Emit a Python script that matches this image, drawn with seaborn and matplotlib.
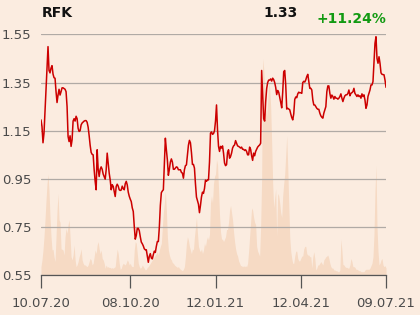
import matplotlib
matplotlib.use("Agg")
import matplotlib.pyplot as plt
import numpy as np
import pandas as pd
import seaborn as sns

# ---------------- data ----------------
ticker = "RFK"
last_price = "1.33"
change_text = "+11.24%"

price_seg1 = [1.195, 1.167, 1.10, 1.14, 1.23, 1.32, 1.402, 1.499, 1.40, 1.39,
              1.41, 1.42, 1.385, 1.37, 1.368, 1.312, 1.267, 1.298, 1.322, 1.298,
              1.312, 1.328, 1.328, 1.325, 1.322, 1.312, 1.25, 1.126, 1.105, 1.129,
              1.085, 1.112, 1.19, 1.20, 1.19, 1.21, 1.20, 1.16, 1.147, 1.15,
              1.174, 1.182, 1.186, 1.19, 1.192, 1.192, 1.185, 1.165, 1.13, 1.09,
              1.06, 1.052, 1.05, 0.988, 0.94, 0.905, 1.071, 0.99, 0.96, 0.99,
              1.0, 0.99, 0.97, 0.96, 0.949, 0.988, 1.057, 1.016, 0.974, 0.946,
              0.905, 0.926, 0.919, 0.898, 0.877, 0.919, 0.928, 0.92, 0.905, 0.902,
              0.904, 0.92, 0.91, 0.905, 0.93, 0.94, 0.925, 0.895, 0.878, 0.866,
              0.856, 0.83]
price_seg2 = [0.815, 0.753, 0.70, 0.715, 0.745, 0.745, 0.735, 0.71, 0.688, 0.681,
              0.672, 0.66, 0.656, 0.656, 0.629, 0.604, 0.629, 0.64, 0.622, 0.618,
              0.636, 0.65, 0.645, 0.67, 0.69, 0.69, 0.75, 0.84, 0.893, 0.9,
              0.905, 1.016, 1.119, 1.071, 1.029, 0.965, 0.99, 1.02, 1.033, 1.02,
              0.99, 0.99, 0.995, 1.0, 0.998, 0.988, 0.988, 0.988, 0.977, 0.974,
              0.953, 0.988, 1.005, 1.008, 1.05, 1.09, 1.11, 1.10, 1.06, 1.01,
              1.01, 0.995, 0.93, 0.875, 0.86, 0.845, 0.81, 0.84, 0.875, 0.895,
              0.89, 0.91, 0.945, 0.94, 0.946, 0.946, 1.02, 1.14, 1.145, 1.135,
              1.138, 1.15, 1.19, 1.257, 1.154, 1.085, 1.064]
price_seg3 = [1.085, 1.078, 1.087, 1.057, 1.016, 1.005, 1.009, 1.06, 1.071, 1.036,
              1.043, 1.057, 1.078, 1.087, 1.091, 1.109, 1.098, 1.087, 1.085, 1.082,
              1.078, 1.082, 1.073, 1.073, 1.068, 1.071, 1.064, 1.05, 1.05, 1.082,
              1.073, 1.046, 1.027, 1.057, 1.046, 1.064, 1.073, 1.082, 1.087, 1.091,
              1.098, 1.40, 1.30, 1.20, 1.19, 1.27, 1.325, 1.35, 1.36, 1.36,
              1.365, 1.356, 1.368, 1.362, 1.35, 1.33, 1.30, 1.317, 1.31, 1.29,
              1.268, 1.245, 1.31, 1.395, 1.40, 1.34, 1.24, 1.243, 1.24, 1.237,
              1.22, 1.205, 1.195, 1.22, 1.28, 1.29, 1.287, 1.303, 1.31, 1.307,
              1.308, 1.305, 1.35, 1.355, 1.352]
price_seg4 = [1.361, 1.375, 1.384, 1.354, 1.326, 1.326, 1.319, 1.278, 1.257, 1.257,
              1.25, 1.243, 1.239, 1.239, 1.223, 1.212, 1.206, 1.202, 1.223, 1.236,
              1.25, 1.312, 1.336, 1.336, 1.305, 1.285, 1.298, 1.292, 1.281, 1.292,
              1.285, 1.285, 1.281, 1.285, 1.292, 1.303, 1.285, 1.271, 1.285, 1.295,
              1.299, 1.299, 1.305, 1.319, 1.295, 1.305, 1.308, 1.312, 1.326, 1.305,
              1.299, 1.292, 1.299, 1.292, 1.295, 1.285, 1.303, 1.292, 1.299, 1.278,
              1.243, 1.257, 1.292, 1.305, 1.319, 1.34, 1.34, 1.354, 1.43, 1.513,
              1.54, 1.45, 1.43, 1.457, 1.43, 1.39, 1.384, 1.383, 1.382, 1.36,
              1.33]

# relative trading volume (share of the chart height)
volume_seg1 = [.036, .064, .105, .16, .23, .31, .38, .42, .35, .24,
               .16, .105, .108, .077, .057, .16, .27, .34, .23, .22,
               .11, .108, .105, .084, .16, .195, .174, .21, .23, .16,
               .077, .064, .084, .126, .064, .036, .043, .057, .077, .09,
               .11, .064, .05, .043, .043, .039, .036, .043, .057, .07,
               .064, .043, .05, .077, .105, .09, .126, .14, .11, .09,
               .105, .07, .064, .05, .029, .043, .033, .036, .032, .033,
               .029, .032, .029, .033, .036, .077, .109, .09, .05, .025,
               .029, .043, .05, .046, .043, .052, .064, .057, .043, .05,
               .039, .036]
volume_seg2 = [.036, .105, .14, .133, .09, .05, .036, .029, .033, .043,
               .036, .029, .022, .025, .033, .036, .043, .05, .057, .064,
               .07, .077, .084, .09, .098, .084, .105, .12, .133, .2,
               .26, .30, .35, .27, .16, .105, .084, .07, .064, .052,
               .05, .043, .039, .036, .033, .036, .029, .025, .022, .019,
               .025, .036, .077, .133, .16, .146, .12, .105, .09, .11,
               .105, .16, .2, .24, .174, .12, .105, .098, .11, .09,
               .105, .133, .12, .146, .16, .146, .17, .30, .33, .30,
               .38, .41, .42, .48, .46, .36, .25]
volume_seg3 = [.18, .15, .15, .14, .15, .16, .19, .19, .22, .27,
               .29, .26, .23, .18, .14, .11, .09, .08, .06, .05,
               .04, .04, .035, .04, .035, .04, .035, .05, .10, .16,
               .22, .28, .27, .24, .22, .21, .12, .10, .09, .08,
               .20, .40, .90, .86, .78, .70, .66, .72, .80, .78,
               .70, .55, .38, .28, .32, .36, .16, .34, .33, .30,
               .26, .24, .33, .38, .42, .50, .58, .45, .30, .16,
               .10, .07, .05, .05, .08, .10, .10, .07, .06, .06,
               .07, .08, .08, .11, .12]
volume_seg4 = [.12, .09, .084, .084, .077, .077, .03, .077, .098, .07,
               .022, .03, .043, .043, .05, .057, .05, .043, .064, .07,
               .077, .08, .084, .07, .05, .036, .03, .03, .022, .022,
               .019, .019, .015, .015, .022, .15, .105, .045, .043, .036,
               .033, .033, .03, .03, .043, .07, .057, .036, .036, .033,
               .025, .025, .022, .019, .019, .015, .015, .015, .015, .022,
               .025, .025, .025, .025, .03, .04, .05, .077, .17, .35,
               .457, .20, .10, .043, .05, .064, .07, .043, .036, .04,
               .03]

tick_labels = ["10.07.20", "08.10.20", "12.01.21", "12.04.21", "09.07.21"]
tick_index = [0, 89, 174, 259, 344]
y_ticks = [0.55, 0.75, 0.95, 1.15, 1.35, 1.55]

price = price_seg1 + price_seg2 + price_seg3 + price_seg4
volume = volume_seg1 + volume_seg2 + volume_seg3 + volume_seg4
if len(price) != len(volume):
    raise SystemExit(f"length mismatch price={len(price)} volume={len(volume)}")

df = pd.DataFrame({"day": np.arange(len(price)), "price": price, "volume": volume})

# ---------------- styling ----------------
BG = "#fbece0"
VOL = "#f6dac4"
RED = "#cc0000"
GRID = "#b0aaa5"
TXT = "#4a4a4a"

sns.set_theme(style="white", rc={"figure.facecolor": BG, "axes.facecolor": BG})
plt.rcParams["font.family"] = ["DejaVu Sans"]

fig = plt.figure(figsize=(4.2, 3.15), dpi=100)
ax_vol = fig.add_axes([0.0976, 0.126, 0.8215, 0.765])
ax = ax_vol.twinx()
ax.set_zorder(ax_vol.get_zorder() + 1)
ax.patch.set_visible(False)
ax.xaxis.set_visible(True)

ax_vol.fill_between(df["day"], 0, df["volume"], color=VOL, linewidth=0)
ax_vol.set_ylim(0, 1)
ax_vol.set_yticks([])
for s in ax_vol.spines.values():
    s.set_visible(False)

sns.lineplot(data=df, x="day", y="price", ax=ax, color=RED, linewidth=1.1)
ax.set_xlim(0, len(price) - 1)
ax.set_ylim(0.55, 1.55)
ax.set_yticks(y_ticks)
ax.set_yticklabels([f"{v:.2f}" for v in y_ticks])
ax.yaxis.set_ticks_position("left")
ax.yaxis.set_label_position("left")
ax.tick_params(axis="y", length=0, pad=7, labelsize=9.5, labelcolor=TXT,
               left=True, right=False, labelleft=True, labelright=False)
ax.grid(axis="y", color=GRID, linewidth=0.9)
ax.set_xticks(tick_index)
ax.set_xticklabels(tick_labels)
ax.tick_params(axis="x", length=9.5, width=0.9, color="#555555", pad=6,
               labelsize=9.5, labelcolor=TXT, direction="out",
               bottom=True, labelbottom=True, top=False, labeltop=False)
ax.set_xlabel("")
ax.set_ylabel("")
for name, s in ax.spines.items():
    s.set_visible(name == "bottom")
ax.spines["bottom"].set_color("#555555")
ax.spines["bottom"].set_linewidth(0.9)
ax_vol.tick_params(axis="x", bottom=False, labelbottom=False)

fig.text(0.1, 0.982, ticker, fontsize=10, fontweight="bold", color="#111111",
         ha="left", va="top")
fig.text(0.708, 0.982, last_price, fontsize=10, fontweight="bold", color="#111111",
         ha="right", va="top")
fig.text(0.919, 0.962, change_text, fontsize=10, fontweight="bold", color="#129a12",
         ha="right", va="top")

fig.savefig("out.png", dpi=100, facecolor=BG)
